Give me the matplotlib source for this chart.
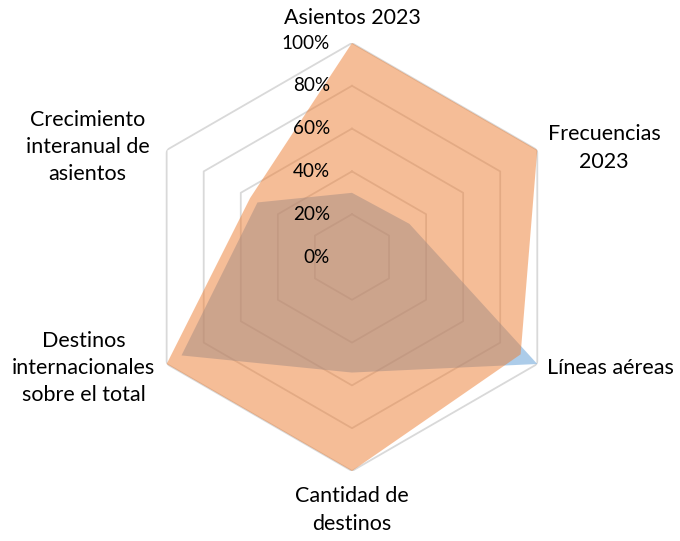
import numpy as np
import matplotlib
matplotlib.use("Agg")
import matplotlib.pyplot as plt

# categories, clockwise from the top
categories = ["Asientos 2023", "Frecuencias\n2023", "Líneas aéreas",
              "Cantidad de\ndestinos", "Destinos\ninternacionales\nsobre el total",
              "Crecimiento\ninteranual de\nasientos"]
serie_azul = [0.30, 0.31, 1.00, 0.54, 0.92, 0.51]
serie_naranja = [1.00, 1.00, 0.91, 1.00, 1.00, 0.55]
levels = [0.0, 0.2, 0.4, 0.6, 0.8, 1.0]
level_labels = ["0%", "20%", "40%", "60%", "80%", "100%"]

plt.rcParams["font.family"] = ["Lato", "DejaVu Sans"]

fig = plt.figure(figsize=(6.8, 5.41), dpi=100)
ax = fig.add_axes([0.2029, 0.1294, 0.6294, 0.7911], projection="polar")
ax.set_theta_offset(np.pi / 2)
ax.set_theta_direction(-1)
ax.set_ylim(0, 1)
ax.axis("off")

n = len(categories)
theta = np.arange(n) * 2 * np.pi / n
theta_c = np.append(theta, theta[0])

# hexagonal grid
for lv in levels[1:]:
    ax.plot(theta_c, [lv] * (n + 1), color="#D9D9D9", lw=1.3, zorder=1)

# series
ax.fill(theta_c, serie_azul + serie_azul[:1], color="#5B9BD5", alpha=0.5, lw=0, zorder=2)
ax.fill(theta_c, serie_naranja + serie_naranja[:1], color="#ED7D31", alpha=0.5, lw=0, zorder=3)

# radial tick labels
for lv, lab in zip(levels, level_labels):
    ax.annotate(lab, xy=(0, lv), xytext=(-22, 0), textcoords="offset pixels",
                ha="right", va="center", fontsize=13.6, color="#000000", zorder=4)

# category labels
offsets = [(0, 25, "center"), (67, 2, "center"), (10, -4, "left"),
           (0, -39, "center"), (-83, -4, "center"), (-79, 3, "center")]
for t, lab, (dx, dy, ha) in zip(theta, categories, offsets):
    ax.annotate(lab, xy=(t, 1.0), xytext=(dx, dy), textcoords="offset pixels",
                ha=ha, va="center", fontsize=15.5, color="#000000",
                multialignment="center", linespacing=1.45, zorder=4)

fig.savefig("out.png", dpi=100)
